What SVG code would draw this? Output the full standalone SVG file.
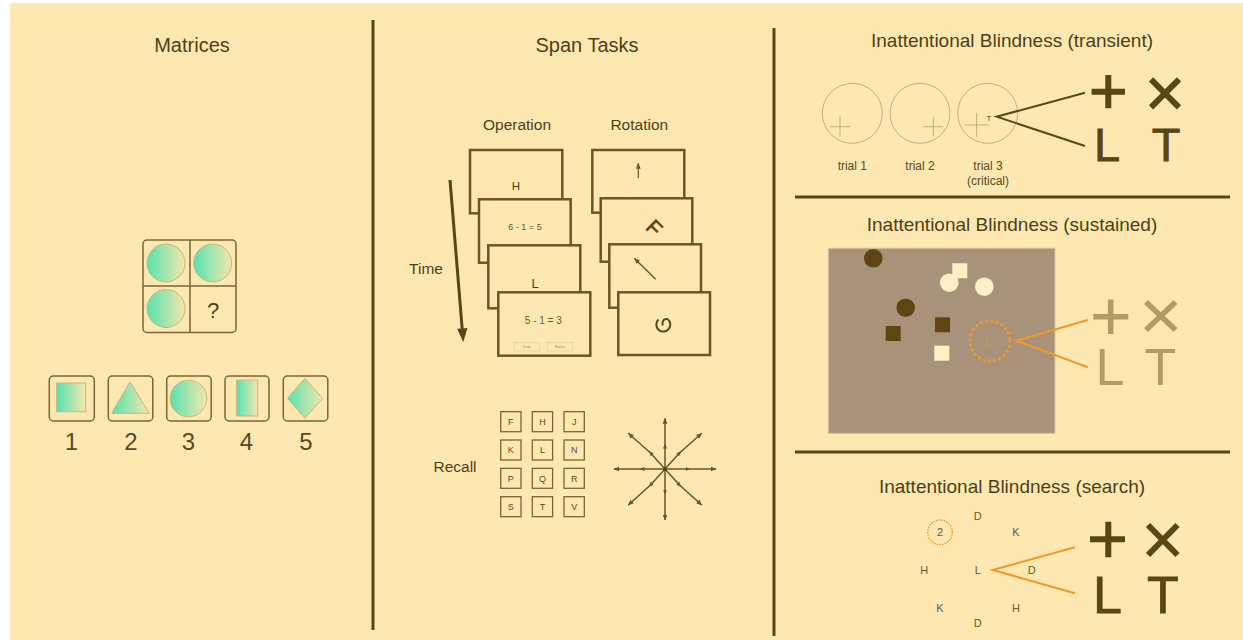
<svg xmlns="http://www.w3.org/2000/svg" width="1243" height="640" viewBox="0 0 1243 640">
<defs>
<linearGradient id="g" x1="0" y1="0" x2="1" y2="0">
<stop offset="0" stop-color="#55E2B0"/>
<stop offset="1" stop-color="#F6E6AC"/>
</linearGradient>
<marker id="ah" viewBox="0 0 10 10" refX="9" refY="5" markerWidth="6" markerHeight="6" orient="auto" markerUnits="userSpaceOnUse">
<path d="M0,1 L10,5 L0,9 Z" fill="#6B5526"/>
</marker>
<marker id="am" viewBox="0 0 10 10" refX="5" refY="5" markerWidth="5" markerHeight="5" orient="auto" markerUnits="userSpaceOnUse">
<path d="M0,1 L10,5 L0,9 Z" fill="#6B5526"/>
</marker>
</defs>
<style>
text{font-family:"Liberation Sans",Arial,sans-serif;fill:#4E3E16}
.t{font-size:19px;text-anchor:middle}
.sub{font-size:15.5px;text-anchor:middle}
.num{font-size:24px;text-anchor:middle;fill:#5A4922}
.div{stroke:#5A4618;stroke-width:3;fill:none}
.box{fill:none;stroke:#7A6535;stroke-width:1.5}
.sh{fill:url(#g);stroke:#CDB47C;stroke-width:1}
.card{fill:#FEE8B2;stroke:#6B5526;stroke-width:2.5}
.lb{fill:none;stroke:#7A6535;stroke-width:1.3}
.lt{font-size:9px;text-anchor:middle;fill:#5A4922}
.ray{stroke:#6B5526;stroke-width:1.5;fill:none;marker-mid:url(#am);marker-end:url(#ah)}
.tc{fill:none;stroke:#C9AC78;stroke-width:1}
.tx{stroke:#C9AC78;stroke-width:1;fill:none}
.dk{stroke:#5A4515;stroke-width:6;fill:none}
.tan{stroke:#B39C62;stroke-width:5.5;fill:none}
.bigd{font-size:52px;fill:#5A4515}
.bigt{font-size:52px;fill:#B39C62}
.or{stroke:#F2982A;stroke-width:2;fill:none}
.sl{font-size:11px;text-anchor:middle;fill:#6A5830}
</style>
<rect x="10" y="3" width="1233" height="637" fill="#FEE8B2"/>

<g id="dividers">
<line class="div" x1="373" y1="20" x2="373" y2="630"/>
<line class="div" x1="774" y1="28" x2="774" y2="636"/>
<line class="div" x1="795" y1="197" x2="1230" y2="197"/>
<line class="div" x1="795" y1="452" x2="1230" y2="452"/>
</g>

<g id="matrices">
<text class="t" x="192" y="52" style="font-size:20px">Matrices</text>
<rect class="box" x="143" y="240" width="93" height="92.5" rx="4"/>
<line class="box" x1="190" y1="240" x2="190" y2="332.5"/>
<line class="box" x1="143" y1="286" x2="236" y2="286"/>
<circle class="sh" cx="166" cy="263" r="19"/>
<circle class="sh" cx="212.7" cy="263" r="19"/>
<circle class="sh" cx="166" cy="308.5" r="19"/>
<text x="213" y="318" style="font-size:22px;text-anchor:middle">?</text>
</g>

<g id="options">
<rect class="box" x="49.3" y="376" width="45" height="45" rx="4"/>
<rect class="box" x="108.3" y="376" width="44.5" height="45" rx="4"/>
<rect class="box" x="166.7" y="376" width="44.5" height="45" rx="4"/>
<rect class="box" x="225" y="376" width="44" height="45" rx="4"/>
<rect class="box" x="283.3" y="376" width="44.5" height="45" rx="4"/>
<rect class="sh" x="56.7" y="383" width="29" height="28.7"/>
<polygon class="sh" points="130,381.7 149.3,413.3 111.7,413.3"/>
<circle class="sh" cx="188.5" cy="398.5" r="18.3"/>
<rect class="sh" x="236.7" y="380" width="21" height="36"/>
<polygon class="sh" points="305,378.3 322.5,398.3 305,418.3 287.5,398.3"/>
<text class="num" x="71.5" y="450">1</text>
<text class="num" x="131" y="450">2</text>
<text class="num" x="188.5" y="450">3</text>
<text class="num" x="246.5" y="450">4</text>
<text class="num" x="306" y="450">5</text>
</g>

<g id="span-title">
<text class="t" x="587" y="52" style="font-size:20px">Span Tasks</text>
<text class="sub" x="517" y="129.5">Operation</text>
<text class="sub" x="639.3" y="129.5">Rotation</text>
</g>

<g id="time">
<text class="sub" x="426" y="274">Time</text>
<line x1="450" y1="180" x2="462.2" y2="329" stroke="#5A4618" stroke-width="3"/>
<polygon points="463.3,342.3 467.4,327.9 457.2,328.7" fill="#5A4618"/>
</g>

<g id="operation-cards">
<rect class="card" x="470" y="150" width="92.3" height="63.3"/>
<text x="516" y="190" style="font-size:11.5px;text-anchor:middle">H</text>
<rect class="card" x="479" y="199.3" width="91.7" height="63.4"/>
<text x="525" y="230" style="font-size:9px;text-anchor:middle;fill:#6A5830">6 - 1 = 5</text>
<rect class="card" x="488.3" y="245.3" width="92" height="63"/>
<text x="535" y="288" style="font-size:13px;text-anchor:middle">L</text>
<rect class="card" x="498.3" y="292.3" width="92" height="63.4"/>
<text x="543.3" y="323.5" style="font-size:10px;text-anchor:middle;fill:#6A5830">5 - 1 = 3</text>
<rect x="514.3" y="342.3" width="25" height="8.7" fill="none" stroke="#E2CC98" stroke-width="0.7"/>
<rect x="547.3" y="342.3" width="25" height="8.7" fill="none" stroke="#E2CC98" stroke-width="0.7"/>
<text x="526.8" y="348.2" style="font-size:4px;text-anchor:middle;fill:#9A8A60">True</text>
<text x="559.8" y="348.2" style="font-size:4px;text-anchor:middle;fill:#9A8A60">False</text>
</g>

<g id="rotation-cards">
<rect class="card" x="592.3" y="150" width="92" height="62.7"/>
<line x1="638.3" y1="178.3" x2="638.3" y2="163.3" stroke="#6B5526" stroke-width="1.2" marker-end="url(#ah)"/>
<rect class="card" x="600.7" y="198.3" width="91.6" height="63.4"/>
<text x="0" y="0" transform="translate(649,233) rotate(45)" style="font-size:21px;text-anchor:middle;fill:#5A4515;stroke:#5A4515;stroke-width:0.6">F</text>
<rect class="card" x="609.3" y="244.3" width="91.7" height="63.4"/>
<line x1="655.7" y1="279.3" x2="634.5" y2="258.5" stroke="#6B5526" stroke-width="1.4" marker-end="url(#ah)"/>
<rect class="card" x="618.3" y="292.3" width="91.7" height="62.7"/>
<path d="M658.5,319.5 A7,7 0 1 0 667.5,319 M667.5,319 Q662,318 662.5,325.5" fill="none" stroke="#5A4515" stroke-width="2"/>
</g>

<g id="recall">
<text class="sub" x="455" y="471.5">Recall</text>
<rect class="lb" x="500.7" y="411.7" width="20.3" height="20"/>
<rect class="lb" x="532.3" y="411.7" width="20.3" height="20"/>
<rect class="lb" x="564" y="411.7" width="20.3" height="20"/>
<rect class="lb" x="500.7" y="440" width="20.3" height="20"/>
<rect class="lb" x="532.3" y="440" width="20.3" height="20"/>
<rect class="lb" x="564" y="440" width="20.3" height="20"/>
<rect class="lb" x="500.7" y="468.3" width="20.3" height="20"/>
<rect class="lb" x="532.3" y="468.3" width="20.3" height="20"/>
<rect class="lb" x="564" y="468.3" width="20.3" height="20"/>
<rect class="lb" x="500.7" y="496.7" width="20.3" height="20"/>
<rect class="lb" x="532.3" y="496.7" width="20.3" height="20"/>
<rect class="lb" x="564" y="496.7" width="20.3" height="20"/>
<text class="lt" x="510.8" y="424.9">F</text>
<text class="lt" x="542.5" y="424.9">H</text>
<text class="lt" x="574.2" y="424.9">J</text>
<text class="lt" x="510.8" y="453.2">K</text>
<text class="lt" x="542.5" y="453.2">L</text>
<text class="lt" x="574.2" y="453.2">N</text>
<text class="lt" x="510.8" y="481.5">P</text>
<text class="lt" x="542.5" y="481.5">Q</text>
<text class="lt" x="574.2" y="481.5">R</text>
<text class="lt" x="510.8" y="509.9">S</text>
<text class="lt" x="542.5" y="509.9">T</text>
<text class="lt" x="574.2" y="509.9">V</text>
</g>

<g id="star">
<polyline class="ray" points="665,469 665,446 665,418.3"/>
<polyline class="ray" points="665,469 665,492 665,520"/>
<polyline class="ray" points="665,469 688,469 716,469"/>
<polyline class="ray" points="665,469 642,469 614,469"/>
<polyline class="ray" points="665,469 650.5,453 628.3,433.3"/>
<polyline class="ray" points="665,469 679.5,453 701.7,433.3"/>
<polyline class="ray" points="665,469 650.5,485 628.3,505"/>
<polyline class="ray" points="665,469 679.5,485 701.7,505"/>
<circle cx="665" cy="469" r="2" fill="#5A4515"/>
</g>

<g id="transient">
<text class="t" x="1012" y="47">Inattentional Blindness (transient)</text>
<circle class="tc" cx="852.3" cy="113.3" r="30"/>
<circle class="tc" cx="920" cy="113.3" r="30"/>
<circle class="tc" cx="987.7" cy="113.3" r="30"/>
<path class="tx" d="M830,126.7 H850 M840,116.7 V136.7"/>
<path class="tx" d="M923.3,126.7 H943.3 M933.3,116.7 V136.7"/>
<path class="tx" d="M964.7,125 H988.7 M976.7,113 V137"/>
<text x="989" y="120.5" style="font-size:8px;text-anchor:middle;fill:#4E3E16">T</text>
<text x="852.3" y="170" style="font-size:12px;text-anchor:middle;fill:#5A4922">trial 1</text>
<text x="920" y="170" style="font-size:12px;text-anchor:middle;fill:#5A4922">trial 2</text>
<text x="988" y="170" style="font-size:12px;text-anchor:middle;fill:#5A4922">trial 3</text>
<text x="988" y="184.5" style="font-size:12px;text-anchor:middle;fill:#5A4922">(critical)</text>
<path d="M1085,92.7 L996.7,116.7 L1085,146" fill="none" stroke="#5A4515" stroke-width="2"/>
<path class="dk" d="M1091.6,91.7 H1125 M1108.3,75 V108.3"/>
<path class="dk" d="M1151,79.3 L1179,107.3 M1179,79.3 L1151,107.3"/>
<text x="1093.9" y="160.7" style="font-size:47px;fill:#5A4515;stroke:#5A4515;stroke-width:0.8">L</text>
<text x="1166" y="160.7" style="font-size:47px;text-anchor:middle;fill:#5A4515;stroke:#5A4515;stroke-width:0.8">T</text>
</g>

<g id="sustained">
<text class="t" x="1012" y="231">Inattentional Blindness (sustained)</text>
<rect x="828.3" y="248.3" width="226.7" height="185" fill="#A8927A" stroke="#D6C29A" stroke-width="1"/>
<circle cx="873.3" cy="258.3" r="9.3" fill="#5E4614"/>
<circle cx="905.7" cy="307.7" r="9.3" fill="#5E4614"/>
<rect x="885.7" y="326" width="15" height="15" fill="#5E4614"/>
<rect x="935" y="317.3" width="15" height="15" fill="#5E4614"/>
<rect x="952.3" y="263.3" width="15" height="15" fill="#FFF0C8"/>
<rect x="934.3" y="345.7" width="15" height="15" fill="#FFF0C8"/>
<circle cx="949.3" cy="282.7" r="9.3" fill="#FFF0C8"/>
<circle cx="984.3" cy="286.7" r="9.3" fill="#FFF0C8"/>
<circle cx="990" cy="341" r="20" fill="none" stroke="#F2982A" stroke-width="3" stroke-dasharray="0.1 5.2" stroke-linecap="round"/>
<text x="989" y="347" style="font-size:14px;text-anchor:middle;fill:#B39C62">L</text>
<path class="or" d="M1087.7,320 L1016.7,340.7 L1087.7,367.3"/>
<path class="tan" d="M1093.3,316.7 H1128.3 M1110.7,299.5 V334"/>
<path class="tan" d="M1146,302 L1175.5,330 M1175.5,302 L1146,330"/>
<text x="1095.5" y="385" class="bigt">L</text>
<text x="1160.5" y="385" class="bigt" style="text-anchor:middle">T</text>
</g>

<g id="search">
<text class="t" x="1012" y="493">Inattentional Blindness (search)</text>
<circle cx="940" cy="532.3" r="12.3" fill="none" stroke="#F2982A" stroke-width="1.6" stroke-dasharray="0.1 2.6" stroke-linecap="round"/>
<text class="sl" x="940" y="536.3">2</text>
<text class="sl" x="977.7" y="520">D</text>
<text class="sl" x="1016" y="536.3">K</text>
<text class="sl" x="924.3" y="574">H</text>
<text class="sl" x="977.7" y="574">L</text>
<text class="sl" x="1031.7" y="574">D</text>
<text class="sl" x="940" y="612">K</text>
<text class="sl" x="1016" y="612">H</text>
<text class="sl" x="977.7" y="627.3">D</text>
<path class="or" d="M1075,547.3 L992.7,570 L1075,593.3"/>
<path class="dk" d="M1090,539.3 H1125 M1108.3,521.7 V557.3"/>
<path class="dk" d="M1148,525 L1177.5,555 M1177.5,525 L1148,555"/>
<text x="1093" y="612.7" class="bigd" style="stroke:#5A4515;stroke-width:0.8">L</text>
<text x="1162.8" y="612.7" class="bigd" style="text-anchor:middle;stroke:#5A4515;stroke-width:0.8">T</text>
</g>
</svg>
